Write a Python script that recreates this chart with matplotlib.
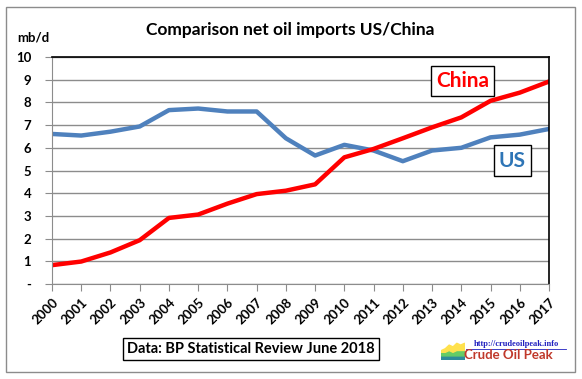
import matplotlib.pyplot as plt
from matplotlib.patches import Rectangle

years = list(range(2000, 2018))
us = [6.61, 6.54, 6.71, 6.94, 7.66, 7.73, 7.60, 7.60, 6.42, 5.66,
      6.13, 5.88, 5.41, 5.88, 6.00, 6.46, 6.58, 6.83]
china = [0.83, 0.99, 1.39, 1.93, 2.91, 3.06, 3.54, 3.96, 4.11, 4.39,
         5.58, 5.95, 6.42, 6.90, 7.34, 8.07, 8.43, 8.92]
y_ticks = list(range(0, 11))
y_labels = ["-"] + [str(v) for v in range(1, 11)]

plt.rcParams['font.family'] = ['Lato', 'DejaVu Sans']
plt.rcParams['font.weight'] = 'bold'

W, H = 582, 379
fig = plt.figure(figsize=(W / 100, H / 100), dpi=100)

# outer frame
fig.patches.append(Rectangle((6 / W, 1 - 372 / H), 569 / W, 365 / H,
                             transform=fig.transFigure, fill=False,
                             edgecolor='#8c8c8c', linewidth=1.0))

ax = fig.add_axes([52 / W, 1 - 284 / H, 497 / W, 227 / H])
ax.plot(years, us, color='#4f81bd', linewidth=3.2, solid_joinstyle='round')
ax.plot(years, china, color='#ff0000', linewidth=3.2, solid_joinstyle='round')

ax.set_xlim(2000, 2017)
ax.set_ylim(0, 10)
ax.set_yticks(y_ticks)
ax.set_yticklabels(y_labels, fontsize=9.5, fontweight='bold')
ax.set_xticks(years)
ax.set_xticklabels([str(y) for y in years], rotation=45, ha='right',
                   rotation_mode='anchor', fontsize=9.5, fontweight='bold')
ax.grid(axis='y', color='#8c8c8c', linewidth=1.0)
ax.set_axisbelow(True)
ax.tick_params(axis='both', direction='out', length=5, color='#8c8c8c', pad=4)
ax.tick_params(axis='y', pad=10)
for s in ['left', 'bottom']:
    ax.spines[s].set_color('#8c8c8c')
for s in ['top', 'right']:
    ax.spines[s].set_color('black')
    ax.spines[s].set_linewidth(1.2)

ax.text(2014.05, 8.95, "China", color='#ff0000', fontsize=15, fontweight='bold',
        ha='center', va='center',
        bbox=dict(boxstyle='square,pad=0.25', facecolor='white', edgecolor='black', linewidth=1))
ax.text(2015.75, 5.44, "US", color='#2e75b6', fontsize=15, fontweight='bold',
        ha='center', va='center',
        bbox=dict(boxstyle='square,pad=0.25', facecolor='white', edgecolor='black', linewidth=1))

fig.text(290 / W, 1 - 30 / H, "Comparison net oil imports US/China",
         fontsize=12.5, fontweight='bold', ha='center', va='center')
fig.text(33 / W, 1 - 38 / H, "mb/d", fontsize=9.5, fontweight='bold',
         ha='center', va='center')

fig.text(251 / W, 1 - 349 / H, "Data: BP Statistical Review June 2018",
         fontsize=10.5, fontweight='bold', ha='center', va='center',
         bbox=dict(boxstyle='square,pad=0.3', facecolor='white', edgecolor='black', linewidth=1))

# logo
lx = fig.add_axes([441 / W, 1 - 359 / H, 23 / W, 18 / H])
xs = [0, 1, 2, 3, 4, 5, 6]
lx.fill_between(xs, 0, [2, 2, 2, 2, 2, 2, 2], color='#2e8b9a')
lx.fill_between(xs, 2, [4, 4, 5, 4, 5, 5, 5], color='#66cc66')
lx.fill_between(xs, [4, 4, 5, 4, 5, 5, 5], [5, 6, 8, 7, 9, 8, 9], color='#ffe14d')
lx.set_xlim(0, 6)
lx.set_ylim(0, 10)
lx.axis('off')
fig.text(516 / W, 1 - 344 / H, "http://crudeoilpeak.info", color='#1f1fbf',
         fontsize=6, fontweight='bold', family='Liberation Serif',
         ha='center', va='center')
fig.add_artist(plt.Line2D([466 / W, 566 / W], [1 - 349 / H, 1 - 349 / H],
                          color='#1f1fbf', linewidth=0.6))
fig.text(508 / W, 1 - 355 / H, "Crude Oil Peak", color='#c0392b',
         fontsize=9.5, fontweight='bold', ha='center', va='center')

fig.savefig("out.png", dpi=100)
